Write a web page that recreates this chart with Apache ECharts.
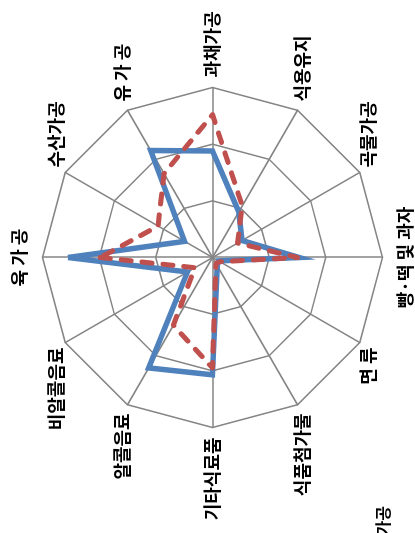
<!DOCTYPE html>
<html>
<head>
<meta charset="utf-8">
<script src="https://cdn.jsdelivr.net/npm/echarts@6/dist/echarts.min.js"></script>
<style>
html,body{margin:0;padding:0;width:415px;height:533px;overflow:hidden;background:#fff;}
#wrap{position:absolute;left:0;top:0;width:533px;height:415px;transform-origin:0 0;transform:translateY(533px) rotate(-90deg);}
</style>
</head>
<body>
<div id="wrap"></div>
<script>
// categories listed clockwise starting from the top of the (unrotated) chart
const categories = ['육 가 공','수산가공','유 가 공','과채가공','식용유지','곡물가공','빵·떡 및 과자','면 류','식품첨가물','기타식료품','알콜음료','비알콜음료'];
const seriesBlue = [25.5, 5.7, 21.8, 18.8, 9.3, 6.0, 15.3, 1.2, 1.7, 20.7, 22.5, 5.1];
const seriesRed  = [19.8, 11.1, 17.1, 25.2, 10.5, 5.1, 15.0, 1.5, 1.2, 19.5, 13.8, 3.6];
const axisMax = 30;
const cornerText = '가공';

// ECharts radar places indicators counter-clockwise; reorder to get clockwise layout
const order = [0];
for (let i = categories.length - 1; i >= 1; i--) order.push(i);
const indicators = order.map(i => ({ name: categories[i], max: axisMax, min: 0 }));
const blueVals = order.map(i => seriesBlue[i]);
const redVals = order.map(i => seriesRed[i]);

const chart = echarts.init(document.getElementById('wrap'), null, { renderer: 'canvas', width: 533, height: 415 });
const gray = '#858585';
chart.setOption({
  animation: false,
  backgroundColor: '#ffffff',
  radar: {
    center: [275.5, 212.5],
    radius: 170,
    startAngle: 90,
    splitNumber: 3,
    shape: 'polygon',
    indicator: indicators,
    nameGap: 10,
    axisName: {
      color: '#000',
      fontSize: 18,
      fontWeight: 'bold',
      fontFamily: 'Noto Sans CJK KR',
      lineHeight: 26
    },
    axisLine: { lineStyle: { color: gray, width: 1.5 } },
    splitLine: { lineStyle: { color: gray, width: 1.5 } },
    splitArea: { show: false },
    axisTick: { show: false },
    axisLabel: { show: false }
  },
  graphic: [{
    type: 'text',
    x: 27,
    y: 383,
    style: {
      text: cornerText,
      fill: '#000',
      font: 'bold 16px "Noto Sans CJK KR"',
      textAlign: 'right',
      textVerticalAlign: 'middle'
    }
  }],
  series: [{
    type: 'radar',
    symbol: 'none',
    data: [
      { value: blueVals, lineStyle: { color: '#4F81BD', width: 5.5, join: 'miter' }, itemStyle: { color: '#4F81BD' } },
      { value: redVals, lineStyle: { color: '#C0504D', width: 5, type: [10, 11], cap: 'round' }, itemStyle: { color: '#C0504D' } }
    ]
  }]
});
</script>
</body>
</html>
